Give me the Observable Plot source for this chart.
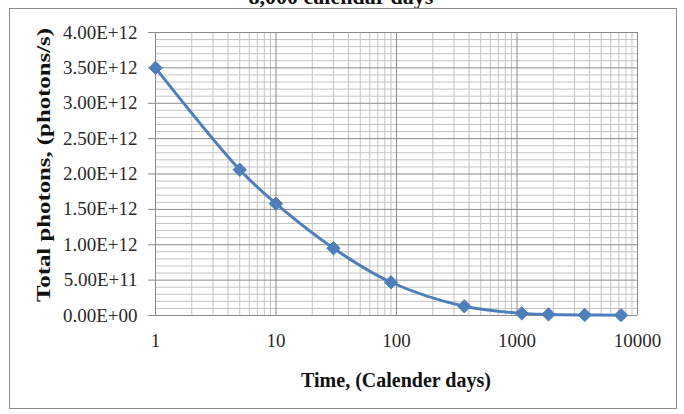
<!DOCTYPE html>
<html>
<head>
<meta charset="utf-8">
<script src="https://cdn.jsdelivr.net/npm/d3@7"></script>
<script src="https://cdn.jsdelivr.net/npm/@observablehq/plot@0.6"></script>
<style>
  html, body { margin: 0; padding: 0; background: #fff; overflow: hidden; }
  #wrap { position: relative; width: 684px; height: 414px; }
  #frame { position: absolute; left: 9px; top: 8px; width: 668px; height: 401px; border: 1px solid #8c8c8c; box-sizing: border-box; pointer-events: none; }
</style>
</head>
<body>
<div id="wrap"><div id="frame"></div></div>
<script>
const days = [1, 5, 10, 30, 90, 365, 1095, 1825, 3650, 7300];
const photons = [3.50e12, 2.06e12, 1.58e12, 0.95e12, 0.47e12, 0.13e12, 0.03e12, 0.015e12, 0.008e12, 0.005e12];
const xTicks = [1, 10, 100, 1000, 10000];
const yTicks = [0, 0.5e12, 1.0e12, 1.5e12, 2.0e12, 2.5e12, 3.0e12, 3.5e12, 4.0e12];
const titleText = "8,000 calendar days";
const xTitle = "Time, (Calender days)";
const yTitle = "Total photons, (photons/s)";

const data = days.map((d, i) => ({day: d, value: photons[i]}));

// gridlines
const xMinor = [];
for (const dec of [1, 10, 100, 1000]) for (let k = 2; k <= 9; k++) xMinor.push(dec * k);
const yMinor = d3.range(0, 41).map(i => i * 1e11).filter(v => !yTicks.includes(v));

const fmt = d => {
  const [m, e] = d.toExponential(2).split("e");
  const sign = e[0] === "-" ? "-" : "+";
  const ex = e.replace(/[+-]/, "").padStart(2, "0");
  return m + "E" + sign + ex;
};

const blue = "#4f7fbb";

const chart = Plot.plot({
  width: 684,
  height: 414,
  marginLeft: 155,
  marginRight: 47,
  marginTop: 32,
  marginBottom: 99,
  x: {type: "log", domain: [1, 10000]},
  y: {domain: [0, 4e12]},
  style: {fontFamily: "'Liberation Serif', 'Times New Roman', serif", fontSize: "19px", color: "#2a2a2a", background: "transparent"},
  marks: [
    Plot.ruleX(xMinor, {stroke: "#c4c4c4", strokeWidth: 1}),
    Plot.ruleY(yMinor, {stroke: "#c4c4c4", strokeWidth: 1}),
    Plot.ruleX(xTicks, {stroke: "#8a8a8a", strokeWidth: 1}),
    Plot.ruleY(yTicks, {stroke: "#8a8a8a", strokeWidth: 1}),
    Plot.axisX({ticks: xTicks, tickFormat: d => String(d), tickSize: 0, tickPadding: 18, label: null, fontSize: 19}),
    Plot.axisY({ticks: yTicks, tickFormat: fmt, tickSize: 7, tickPadding: 11, label: null, stroke: "#8a8a8a", fontSize: 19}),
    Plot.line(data, {x: "day", y: "value", stroke: blue, strokeWidth: 3, curve: "catmull-rom"}),
    Plot.dot(data, {x: "day", y: "value", symbol: "diamond2", r: 6, fill: blue, stroke: blue, strokeWidth: 1})
  ]
});

const svg = d3.select(chart);
svg.append("text")
  .attr("x", 341).attr("y", 4)
  .attr("text-anchor", "middle")
  .attr("font-family", "'Liberation Serif', serif")
  .attr("font-weight", "bold")
  .attr("font-size", 22)
  .attr("fill", "#111")
  .text(titleText);
svg.append("text")
  .attr("x", 396).attr("y", 387)
  .attr("text-anchor", "middle")
  .attr("font-family", "'Liberation Serif', serif")
  .attr("font-weight", "bold")
  .attr("font-size", 20)
  .attr("fill", "#111")
  .text(xTitle);
svg.append("text")
  .attr("transform", "translate(50,165) rotate(-90)")
  .attr("text-anchor", "middle")
  .attr("font-family", "'Liberation Serif', serif")
  .attr("font-weight", "bold")
  .attr("font-size", 19)
  .attr("fill", "#111")
  .attr("textLength", 274)
  .attr("lengthAdjust", "spacingAndGlyphs")
  .text(yTitle);

chart.style.position = "absolute";
chart.style.left = "0px";
chart.style.top = "0px";
document.getElementById("wrap").prepend(chart);
</script>
</body>
</html>
